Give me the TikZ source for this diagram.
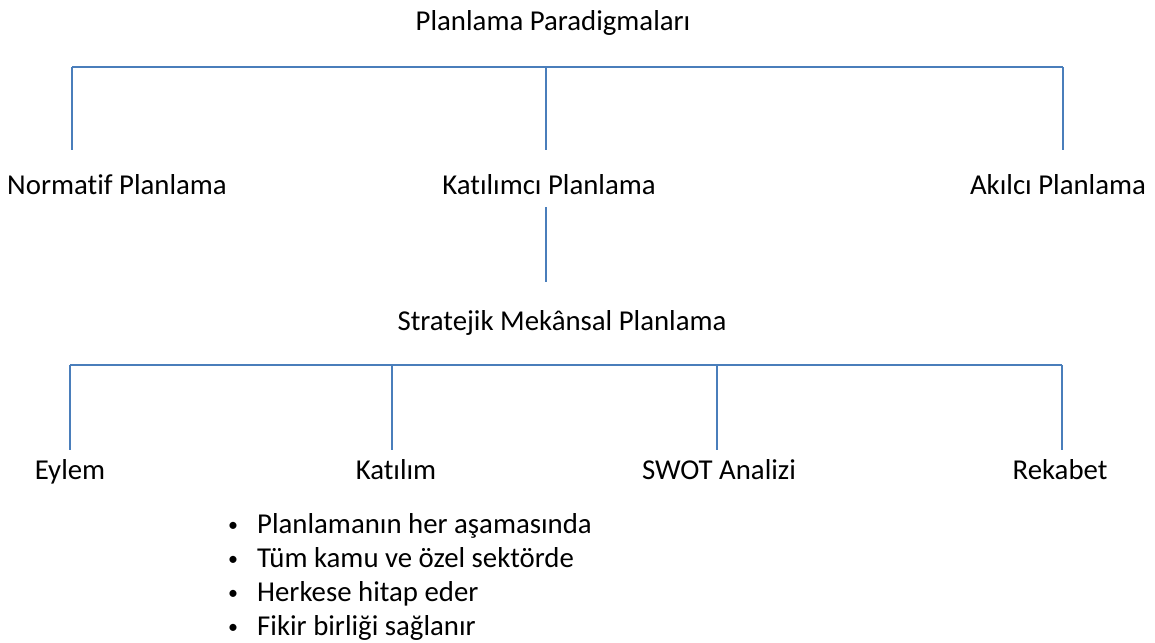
\documentclass[tikz,border=0pt]{standalone}
\usepackage{fontspec}
\setmainfont[Ligatures=NoCommon]{Carlito}
\definecolor{linkblue}{HTML}{4A7EBB}
\begin{document}
\begin{tikzpicture}[x=1pt,y=-1pt,
  lbl/.style={inner sep=0pt,anchor=base,font=\fontsize{28.8}{34}\selectfont},
  bul/.style={inner sep=0pt,anchor=base,font=\fontsize{20}{24}\selectfont},
  lnk/.style={draw=linkblue,line width=2.4pt}]
\useasboundingbox (0,0) rectangle (1155,642);
% nodes
\node[lbl] (root) at (553,31) {Planlama Paradigmaları};
\node[lbl] (norm) at (117,194) {Normatif Planlama};
\node[lbl] (kat) at (549,194) {Katılımcı Planlama};
\node[lbl] (akil) at (1058,194) {Akılcı Planlama};
\node[lbl] (smp) at (562,330) {Stratejik Mekânsal Planlama};
\node[lbl] (eylem) at (70,479) {Eylem};
\node[lbl] (katilim) at (396,479) {Katılım};
\node[lbl] (swot) at (719,479) {SWOT Analizi};
\node[lbl] (rek) at (1060,479) {Rekabet};
% bullets
\foreach \i/\t in {0/{Planlamanın her aşamasında},1/{Tüm kamu ve özel sektörde},2/{Herkese hitap eder},3/{Fikir birliği sağlanır}}{
  \node[bul] (b\i) at (233,531+34*\i) {•};
  \node[lbl,anchor=base west] (t\i) at (257,533+34*\i) {\t};
}
% connector coordinates
\coordinate (h1l) at (72,67);
\coordinate (h1m) at (546,67);
\coordinate (h1r) at (1063,67);
\coordinate (n1) at (72,150);
\coordinate (n2) at (546,150);
\coordinate (n3) at (1063,150);
\coordinate (ks) at (546,207);
\coordinate (ke) at (546,282);
\coordinate (h2a) at (70,365);
\coordinate (h2b) at (392,365);
\coordinate (h2c) at (717,365);
\coordinate (h2d) at (1062,365);
\coordinate (m1) at (70,450);
\coordinate (m2) at (392,450);
\coordinate (m3) at (717,450);
\coordinate (m4) at (1062,450);
% connectors
\draw[lnk] (h1l) -- (h1r);
\draw[lnk] (h1l) -- (n1);
\draw[lnk] (h1m) -- (n2);
\draw[lnk] (h1r) -- (n3);
\draw[lnk] (ks) -- (ke);
\draw[lnk] (h2a) -- (h2d);
\draw[lnk] (h2a) -- (m1);
\draw[lnk] (h2b) -- (m2);
\draw[lnk] (h2c) -- (m3);
\draw[lnk] (h2d) -- (m4);
\end{tikzpicture}
\end{document}
